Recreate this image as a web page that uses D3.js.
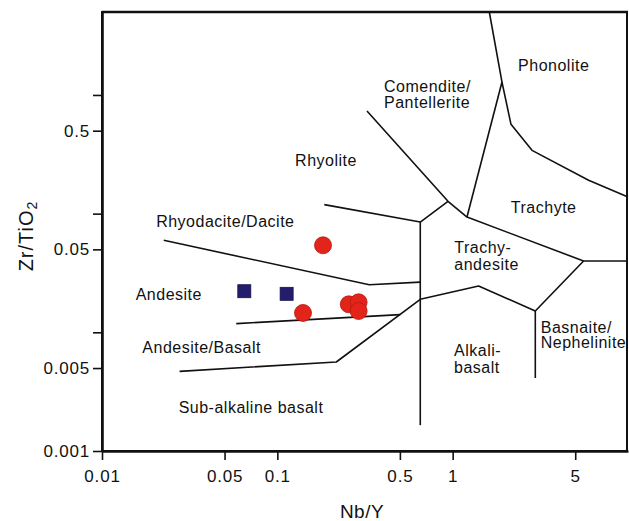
<!DOCTYPE html>
<html>
<head>
<meta charset="utf-8">
<script src="https://cdn.jsdelivr.net/npm/d3@7"></script>
<style>
  body { margin: 0; background: #fff; }
  svg { display: block; font-family: "Liberation Sans", Arial, sans-serif; }
</style>
</head>
<body>
<div id="chart"></div>
<script>
// Nb/Y vs Zr/TiO2 classification (Winchester & Floyd)

// boundary lines, each [Nb/Y, Zr/TiO2]
const rhyodaciteLine = [[0.0225, 0.0596], [0.3345, 0.0252], [0.6535, 0.0265]];
const rhyoliteLine = [[0.1853, 0.1191], [0.6535, 0.0849], [0.9406, 0.1270]];
const alkaliVert = [[0.6535, 0.0849], [0.6535, 0.00165]];
const comenditeLine = [[0.3246, 0.7318], [0.9406, 0.1270], [1.207, 0.0936], [5.58, 0.0399], [10, 0.0399]];
const trachyteLine = [[1.207, 0.0936], [1.911, 1.284]];
const phonoliteLine = [[1.618, 5], [1.911, 1.284], [2.151, 0.5653], [2.835, 0.3415], [5.962, 0.1909], [10, 0.1379]];
const trachyandLine = [[0.6535, 0.01897], [1.406, 0.02455], [2.96, 0.01511], [5.58, 0.0399]];
const basaniteVert = [[2.96, 0.01511], [2.96, 0.00412]];
const andesiteLine = [[0.0583, 0.01184], [0.5027, 0.01409]];
const subalkLine = [[0.0277, 0.00469], [0.2169, 0.005622], [0.6535, 0.01897]];

const boundaries = [rhyodaciteLine, rhyoliteLine, alkaliVert, comenditeLine, trachyteLine,
  phonoliteLine, trachyandLine, basaniteVert, andesiteLine, subalkLine];

// samples
const circleNbY = [0.1822, 0.1401, 0.2556, 0.2908, 0.2908];
const circleZrTi = [0.0541, 0.01455, 0.01721, 0.01789, 0.01511];
const squareNbY = [0.0648, 0.1130];
const squareZrTi = [0.0222, 0.0211];

// field labels: text, Nb/Y, Zr/TiO2 (anchor), text-anchor
const fieldLabels = [
  ["Phonolite", 3.77, 1.591, "middle"],
  ["Comendite/", 0.406, 1.059, "start"],
  ["Pantellerite", 0.406, 0.772, "start"],
  ["Rhyolite", 0.1895, 0.252, "middle"],
  ["Trachyte", 3.305, 0.1007, "middle"],
  ["Trachy-", 1.022, 0.0469, "start"],
  ["andesite", 1.022, 0.0335, "start"],
  ["Rhyodacite/Dacite", 0.0505, 0.0772, "middle"],
  ["Andesite", 0.02404, 0.01872, "middle"],
  ["Andesite/Basalt", 0.03703, 0.006735, "middle"],
  ["Sub-alkaline basalt", 0.07076, 0.002078, "middle"],
  ["Alkali-", 1.018, 0.006318, "start"],
  ["basalt", 1.018, 0.004569, "start"],
  ["Basnaite/", 3.178, 0.009926, "start"],
  ["Nephelinite", 3.178, 0.007334, "start"]
];

const xTicks = [0.01, 0.05, 0.1, 0.5, 1, 5];
const yTicks = [0.001, 0.005, 0.05, 0.5];
const yMinor = [0.01, 0.1, 1];

const width = 629, height = 521;
const marginLeft = 102, plotRight = 628, marginTop = 12, plotBottom = 451;

const svg = d3.select("#chart").append("svg")
  .attr("width", width)
  .attr("height", height);

const x = d3.scaleLog().domain([0.01, 10]).range([marginLeft, plotRight]);
const y = d3.scaleLog().domain([0.001, 5]).range([plotBottom, marginTop]);

/* frame */
svg.append("rect")
  .attr("x", marginLeft).attr("y", marginTop)
  .attr("width", plotRight - marginLeft - 1).attr("height", plotBottom - marginTop)
  .attr("fill", "none").attr("stroke", "#111").attr("stroke-width", 2);
svg.append("line")
  .attr("x1", marginLeft).attr("x2", plotRight).attr("y1", marginTop).attr("y2", marginTop)
  .attr("stroke", "#111").attr("stroke-width", 2.6);

/* boundaries */
const line = d3.line().x(d => x(d[0])).y(d => y(d[1]));
svg.append("g").selectAll("path")
  .data(boundaries)
  .join("path")
  .attr("d", line)
  .attr("fill", "none")
  .attr("stroke", "#111")
  .attr("stroke-width", 1.6)
  .attr("stroke-linejoin", "round");

/* axes */
const xAxis = d3.axisBottom(x).tickValues(xTicks).tickFormat(d3.format("")).tickSize(9).tickSizeOuter(0);
const gx = svg.append("g").attr("transform", `translate(0,${plotBottom})`).call(xAxis);
const yAxis = d3.axisLeft(y).tickValues(yTicks).tickFormat(d3.format("")).tickSize(9).tickSizeOuter(0);
const gy = svg.append("g").attr("transform", `translate(${marginLeft},0)`).call(yAxis);
svg.append("g").attr("transform", `translate(${marginLeft},0)`)
  .call(d3.axisLeft(y).tickValues(yMinor).tickFormat("").tickSize(9).tickSizeOuter(0))
  .select(".domain").remove();

[gx, gy].forEach(g => {
  g.select(".domain").attr("stroke", "#111").attr("stroke-width", 2.6);
  g.selectAll(".tick text")
    .attr("font-family", "Liberation Sans, Arial, sans-serif")
    .attr("font-size", 17)
    .attr("letter-spacing", "0.8px")
    .attr("fill", "#111");
});
gx.selectAll(".tick text").attr("dy", "0.71em").attr("y", 19);
gy.selectAll(".tick text").attr("x", -12);
svg.selectAll(".tick line").attr("stroke", "#111").attr("stroke-width", 1.6);

/* axis titles */
svg.append("text")
  .attr("x", 362).attr("y", 518)
  .attr("text-anchor", "middle")
  .attr("font-size", 19)
  .attr("letter-spacing", "0.5px")
  .attr("fill", "#111")
  .text("Nb/Y");

const yt = svg.append("text")
  .attr("transform", "translate(33,236) rotate(-90)")
  .attr("text-anchor", "middle")
  .attr("font-size", 20)
  .attr("letter-spacing", "1px")
  .attr("fill", "#111");
yt.append("tspan").text("Zr/TiO");
yt.append("tspan").attr("font-size", 14).attr("dy", 4).text("2");

/* field labels */
svg.append("g").selectAll("text")
  .data(fieldLabels)
  .join("text")
  .attr("x", d => x(d[1]))
  .attr("y", d => y(d[2]))
  .attr("text-anchor", d => d[3])
  .attr("font-size", 16)
  .attr("letter-spacing", "0.5px")
  .attr("fill", "#111")
  .text(d => d[0]);

/* samples */
const circles = circleNbY.map((v, i) => ({ nb: v, zr: circleZrTi[i] }));
const squares = squareNbY.map((v, i) => ({ nb: v, zr: squareZrTi[i] }));

svg.append("g").selectAll("rect")
  .data(squares)
  .join("rect")
  .attr("x", d => x(d.nb) - 6.5)
  .attr("y", d => y(d.zr) - 6.5)
  .attr("width", 13).attr("height", 13)
  .attr("fill", "#231d6e")
  .attr("stroke", "#15104a")
  .attr("stroke-width", 0.8);

svg.append("g").selectAll("circle")
  .data(circles)
  .join("circle")
  .attr("cx", d => x(d.nb))
  .attr("cy", d => y(d.zr))
  .attr("r", 8.5)
  .attr("fill", "#e2241b")
  .attr("stroke", "#b51a12")
  .attr("stroke-width", 0.8);
</script>
</body>
</html>
